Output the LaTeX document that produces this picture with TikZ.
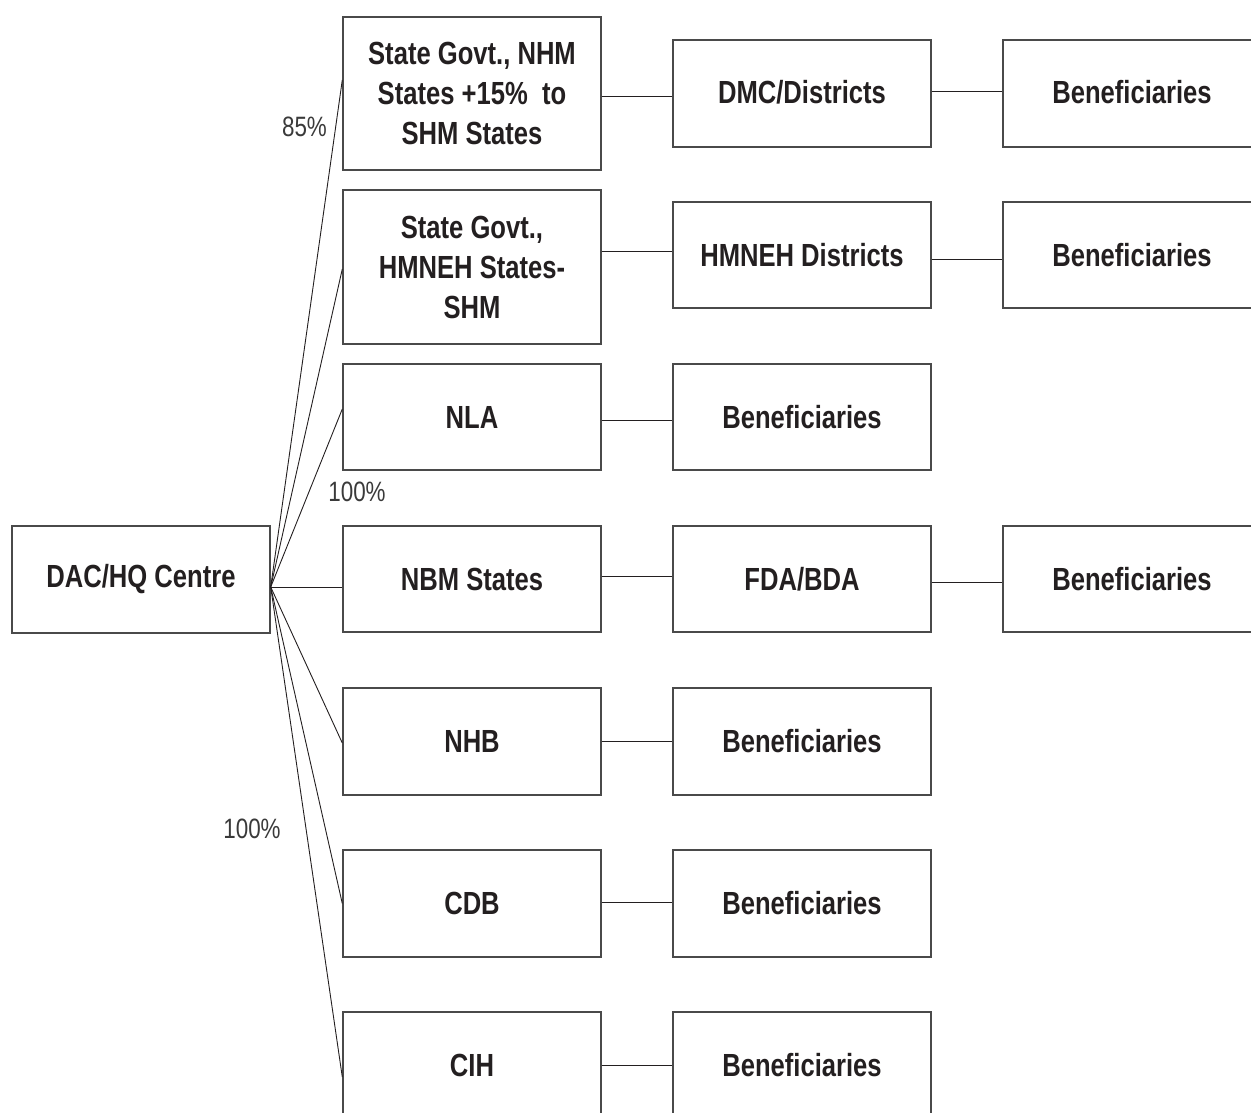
\documentclass[tikz,border=0pt]{standalone}
\usepackage{fontspec}
\newfontfamily\boxfont{Liberation Sans}[FakeStretch=0.8]
\newfontfamily\labfont{Liberation Sans}[FakeStretch=0.8]
\definecolor{boxline}{HTML}{4A4A4A}
\definecolor{txt}{HTML}{231F20}
\definecolor{labtxt}{HTML}{3A3A3A}
\begin{document}
\begin{tikzpicture}[x=1pt,y=-1pt,
  box/.style={draw=boxline,line width=1.4pt,minimum width=258pt,inner sep=0pt,
    align=center,text=txt,font=\boxfont\bfseries\fontsize{32}{40}\selectfont},
  conn/.style={draw=txt,line width=0.9pt},
  pct/.style={text=labtxt,inner sep=0pt,font=\labfont\fontsize{28}{30}\selectfont}]
\useasboundingbox (0,0) rectangle (1251,1112);
% hub box
\node[box,minimum height=107pt] (dac) at (141,579.5) {DAC/HQ Centre};
% column 1
\node[box,minimum height=153pt] (b1) at (472,93.5) {State Govt., NHM\\States +15\%\ \ to\\SHM States};
\node[box,minimum height=154pt] (b2) at (472,267) {State Govt.,\\HMNEH States-\\SHM};
\node[box,minimum height=106pt] (nla) at (472,417) {NLA};
\node[box,minimum height=106pt] (nbm) at (472,579) {NBM States};
\node[box,minimum height=107pt] (nhb) at (472,741.5) {NHB};
\node[box,minimum height=107pt] (cdb) at (472,903.5) {CDB};
\node[box,minimum height=107pt] (cih) at (472,1065.5) {CIH};
% column 2
\node[box,minimum height=107pt] (dmc) at (802,93.5) {\raisebox{4pt}{DMC/Districts}};
\node[box,minimum height=106pt] (hmd) at (802,255) {HMNEH Districts};
\node[box,minimum height=106pt] (be3) at (802,417) {Beneficiaries};
\node[box,minimum height=106pt] (fda) at (802,579) {FDA/BDA};
\node[box,minimum height=107pt] (be5) at (802,741.5) {Beneficiaries};
\node[box,minimum height=107pt] (be6) at (802,903.5) {Beneficiaries};
\node[box,minimum height=107pt] (be7) at (802,1065.5) {Beneficiaries};
% column 3
\node[box,minimum height=107pt] (c31) at (1132,93.5) {\raisebox{4pt}{Beneficiaries}};
\node[box,minimum height=106pt] (c32) at (1132,255) {Beneficiaries};
\node[box,minimum height=106pt] (c34) at (1132,579) {Beneficiaries};
% hub connectors
\coordinate (hub) at ([yshift=-7.5pt]dac.east);
\draw[conn] (hub) -- ([yshift=13.5pt]b1.west);
\draw[conn] (hub) -- ([yshift=-2pt]b2.west);
\draw[conn] (hub) -- ([yshift=8pt]nla.west);
\draw[conn] (hub) -- ([yshift=-8pt]nbm.west);
\draw[conn] (hub) -- ([yshift=-1.5pt]nhb.west);
\draw[conn] (hub) -- (cdb.west);
\draw[conn] (hub) -- ([yshift=-11.5pt]cih.west);
% row connectors
\draw[conn] ([yshift=-2.5pt]b1.east) -- ([yshift=-2.5pt]dmc.west);
\draw[conn] ([yshift=2.5pt]dmc.east) -- ([yshift=2.5pt]c31.west);
\draw[conn] ([yshift=16pt]b2.east) -- ([yshift=4pt]hmd.west);
\draw[conn] ([yshift=-4pt]hmd.east) -- ([yshift=-4pt]c32.west);
\draw[conn] ([yshift=-3pt]nla.east) -- ([yshift=-3pt]be3.west);
\draw[conn] ([yshift=3pt]nbm.east) -- ([yshift=3pt]fda.west);
\draw[conn] ([yshift=-3pt]fda.east) -- ([yshift=-3pt]c34.west);
\draw[conn] (nhb.east) -- (be5.west);
\draw[conn] ([yshift=1.5pt]cdb.east) -- ([yshift=1.5pt]be6.west);
\draw[conn] (cih.east) -- (be7.west);
% percentage labels
\node[pct] (p85) at (304.5,127) {85\%};
\node[pct] (p100a) at (357,492) {100\%};
\node[pct] (p100b) at (252,829) {100\%};
\end{tikzpicture}
\end{document}
